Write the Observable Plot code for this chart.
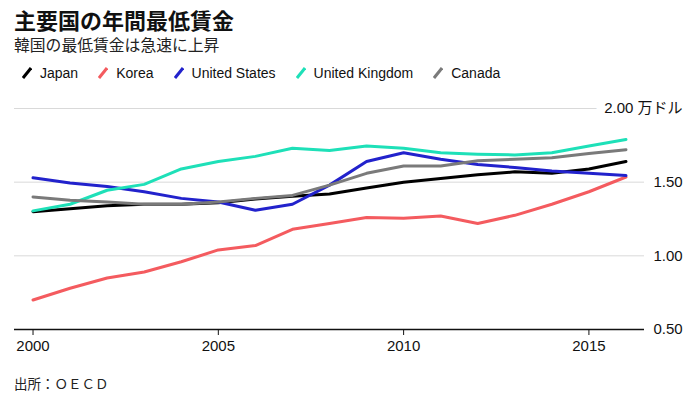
<!DOCTYPE html>
<html>
<head>
<meta charset="utf-8">
<script src="https://cdn.jsdelivr.net/npm/d3@7"></script>
<script src="https://cdn.jsdelivr.net/npm/@observablehq/plot@0.6"></script>
<style>
  html, body { margin: 0; padding: 0; background: #fff; }
  body { width: 700px; height: 399px; position: relative; overflow: hidden;
         font-family: "Liberation Sans", "Noto Sans CJK JP", sans-serif; color: #111; }
  #title { position: absolute; left: 14px; top: 5px; font-family: "Noto Sans CJK JP", sans-serif;
           font-weight: 700; font-size: 22px; line-height: 28px; white-space: nowrap; }
  #subtitle { position: absolute; left: 14px; top: 35px; font-family: "Noto Sans CJK JP", sans-serif;
              font-size: 15.8px; line-height: 20px; color: #222; white-space: nowrap; }
  #legend { position: absolute; left: 22px; top: 63px; display: flex; gap: 20px; font-size: 14px; line-height: 20px; }
  .item { display: flex; align-items: center; gap: 8px; white-space: nowrap; }
  #chart { position: absolute; left: 0; top: 90px; }
  #caption { position: absolute; left: 14px; top: 374px; font-family: "Noto Sans CJK JP", sans-serif;
             font-size: 13.5px; line-height: 18px; color: #222; white-space: nowrap; }
</style>
</head>
<body>
<div id="title">主要国の年間最低賃金</div>
<div id="subtitle">韓国の最低賃金は急速に上昇</div>
<div id="legend"></div>
<div id="chart"></div>
<div id="caption">出所：ＯＥＣＤ</div>
<script>
const years = [2000,2001,2002,2003,2004,2005,2006,2007,2008,2009,2010,2011,2012,2013,2014,2015,2016];
const countries = ["Japan", "Korea", "United States", "United Kingdom", "Canada"];
const colors = ["#000000", "#f45b5f", "#2222cc", "#1ee0b8", "#7a7a7a"];
const japan  = [1.30,1.32,1.34,1.35,1.35,1.36,1.385,1.405,1.42,1.46,1.50,1.525,1.55,1.57,1.56,1.59,1.64];
const korea  = [0.70,0.78,0.85,0.89,0.96,1.04,1.07,1.18,1.22,1.26,1.255,1.27,1.22,1.275,1.35,1.435,1.535];
const us     = [1.53,1.495,1.47,1.435,1.39,1.365,1.31,1.35,1.48,1.64,1.70,1.655,1.62,1.60,1.575,1.56,1.545];
const uk     = [1.305,1.35,1.445,1.485,1.59,1.64,1.675,1.73,1.715,1.745,1.73,1.70,1.69,1.685,1.70,1.745,1.79];
const canada = [1.40,1.378,1.365,1.35,1.35,1.365,1.39,1.41,1.48,1.56,1.61,1.61,1.645,1.655,1.665,1.695,1.72];
const xTicks = [2000, 2005, 2010, 2015];
const yTicks = [0.5, 1.0, 1.5, 2.0];
const yTickLabels = ["0.50", "1.00", "1.50", "2.00 万ドル"];

const seriesValues = [japan, korea, us, uk, canada];
const data = [];
countries.forEach((c, i) => years.forEach((yr, j) => data.push({country: c, year: yr, value: seriesValues[i][j]})));

// legend
const legend = document.getElementById("legend");
countries.forEach((c, i) => {
  const item = document.createElement("div");
  item.className = "item";
  item.innerHTML = `<svg width="10" height="12"><line x1="1" y1="11" x2="9" y2="1" stroke="${colors[i]}" stroke-width="3"/></svg><span>${c}</span>`;
  legend.appendChild(item);
});

const numTicks = yTicks.slice(0, 3);
const numLabels = yTickLabels.slice(0, 3);

const chart = Plot.plot({
  width: 700,
  height: 270,
  marginLeft: 14,
  marginRight: 56,
  marginTop: 18,
  marginBottom: 31,
  style: {fontFamily: "'Liberation Sans', 'Noto Sans CJK JP', sans-serif", fontSize: "15px", color: "#111", background: "white"},
  x: {domain: [1999.5, 2016.5], label: null},
  y: {domain: [0.5, 2.0], axis: null},
  color: {domain: countries, range: colors},
  marks: [
    Plot.ruleY(yTicks.slice(1), {stroke: "#d9d9d9", strokeWidth: 1}),
    Plot.lineY(data, {x: "year", y: "value", stroke: "country", strokeWidth: 3, strokeLinejoin: "round"}),
    Plot.ruleY([yTicks[0]], {stroke: "#111", strokeWidth: 1.3}),
    Plot.axisX({ticks: xTicks, tickFormat: d => String(d), tickSize: 6, tickPadding: 5, fontSize: 15, stroke: "#111", fill: "#111", label: null}),
    Plot.text(numTicks, {y: d => d, text: (d, i) => numLabels[i], frameAnchor: "right", textAnchor: "start", dx: 9,
      fill: "#111", fontSize: 15, stroke: "white", strokeWidth: 18, paintOrder: "stroke"}),
    Plot.text([yTicks[3]], {y: d => d, text: () => yTickLabels[3], frameAnchor: "right", textAnchor: "end", dx: 38,
      fill: "#111", fontSize: 15, stroke: "white", strokeWidth: 18, paintOrder: "stroke"})
  ]
});
document.getElementById("chart").appendChild(chart);
</script>
</body>
</html>
